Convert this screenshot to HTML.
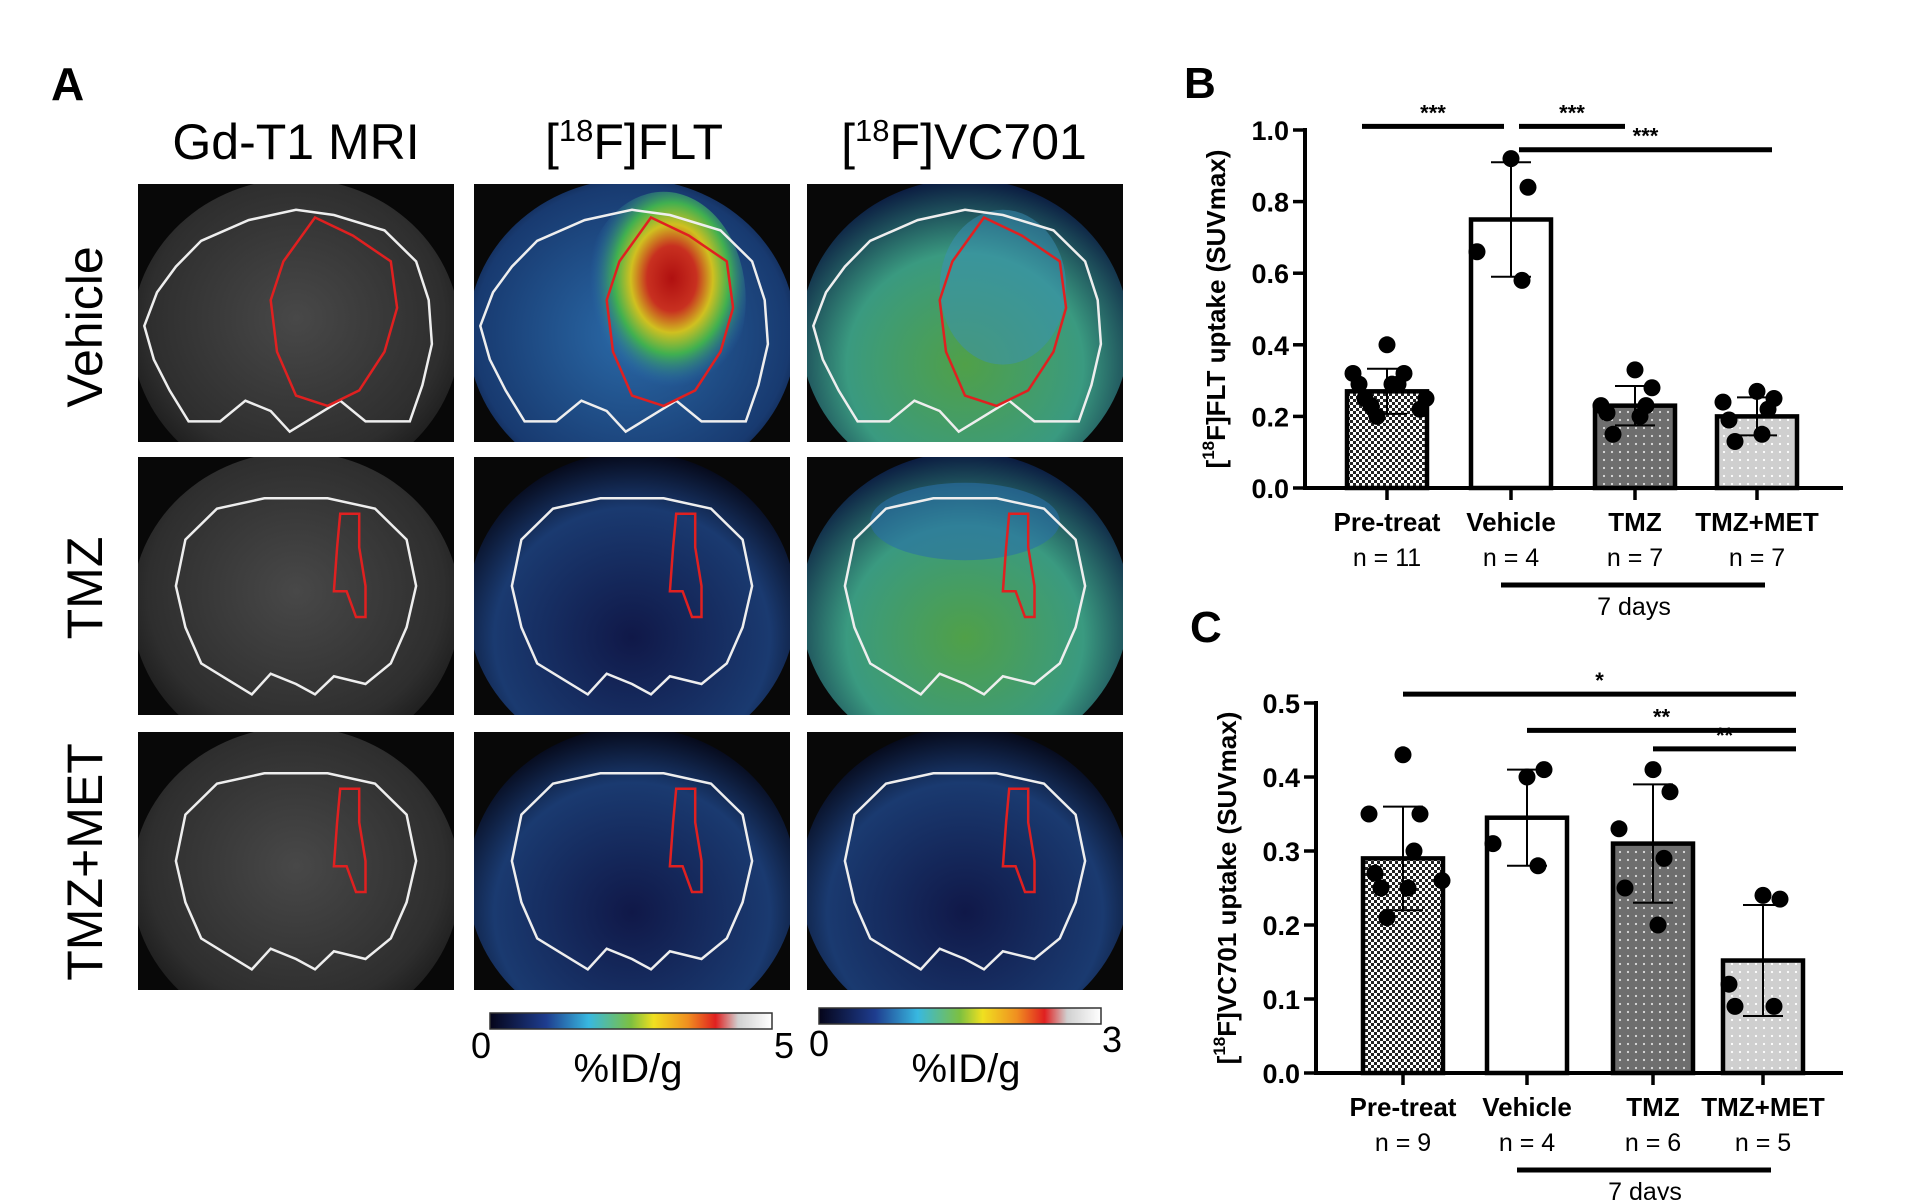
<!DOCTYPE html>
<html><head><meta charset="utf-8"><style>
html,body{margin:0;padding:0;background:#fff;}
svg{display:block;}
.nar{font-family:"Liberation Sans",sans-serif;}
.b{font-family:"Liberation Sans",sans-serif;font-weight:bold;}
</style></head><body>
<svg id="fig" width="1920" height="1200" viewBox="0 0 1920 1200" xmlns="http://www.w3.org/2000/svg">
<defs>
<pattern id="pCheck" width="6" height="6" patternUnits="userSpaceOnUse"><rect width="6" height="6" fill="#fff"/><rect width="3" height="3" fill="#222"/><rect x="3" y="3" width="3" height="3" fill="#222"/></pattern>
<pattern id="pDark" width="8" height="8" patternUnits="userSpaceOnUse"><rect width="8" height="8" fill="#6e6e6e"/><circle cx="4" cy="4" r="1.1" fill="#ddd"/></pattern>
<pattern id="pLight" width="8" height="8" patternUnits="userSpaceOnUse"><rect width="8" height="8" fill="#cfcfcf"/><circle cx="4" cy="4" r="1.1" fill="#fff"/></pattern>
<linearGradient id="jet" x1="0" x2="1"><stop offset="0" stop-color="#05051a"/><stop offset="0.2" stop-color="#1e3d8f"/><stop offset="0.35" stop-color="#38b8e0"/><stop offset="0.5" stop-color="#7dc040"/><stop offset="0.58" stop-color="#f0e020"/><stop offset="0.7" stop-color="#f09020"/><stop offset="0.8" stop-color="#e02020"/><stop offset="0.88" stop-color="#d0d0d0"/><stop offset="1" stop-color="#fff"/></linearGradient>
<radialGradient id="gMri" cx="0.5" cy="0.45" r="0.6"><stop offset="0" stop-color="#484848"/><stop offset="0.75" stop-color="#2e2e2e"/><stop offset="1" stop-color="#151515"/></radialGradient>
<radialGradient id="gHot" cx="0.55" cy="0.4" r="0.5"><stop offset="0" stop-color="#b01010"/><stop offset="0.3" stop-color="#c83020"/><stop offset="0.5" stop-color="#d0c020"/><stop offset="0.7" stop-color="#40b050"/><stop offset="1" stop-color="#2a6ab0" stop-opacity="0"/></radialGradient>
<radialGradient id="gBlue" cx="0.5" cy="0.5" r="0.6"><stop offset="0" stop-color="#2a6aa8"/><stop offset="0.8" stop-color="#183a70"/><stop offset="1" stop-color="#050a20"/></radialGradient>
<radialGradient id="gGreen" cx="0.5" cy="0.6" r="0.6"><stop offset="0" stop-color="#50a048"/><stop offset="0.6" stop-color="#3a9a80"/><stop offset="1" stop-color="#0a1a40"/></radialGradient>
<radialGradient id="gNavy" cx="0.5" cy="0.6" r="0.6"><stop offset="0" stop-color="#101848"/><stop offset="0.7" stop-color="#1a3a70"/><stop offset="1" stop-color="#050818"/></radialGradient>
</defs>
<text x="51" y="100" font-size="46" class="b">A</text>
<text x="296" y="159" font-size="50" text-anchor="middle" class="nar">Gd-T1 MRI</text>
<text x="634" y="159" font-size="50" text-anchor="middle" class="nar">[<tspan font-size="31" dy="-18">18</tspan><tspan dy="18">F]FLT</tspan></text>
<text x="964" y="159" font-size="50" text-anchor="middle" class="nar">[<tspan font-size="31" dy="-18">18</tspan><tspan dy="18">F]VC701</tspan></text>
<text transform="translate(102,327) rotate(-90)" font-size="50" text-anchor="middle" class="nar">Vehicle</text>
<text transform="translate(102,588) rotate(-90)" font-size="50" text-anchor="middle" class="nar">TMZ</text>
<text transform="translate(102,862) rotate(-90)" font-size="50" text-anchor="middle" class="nar">TMZ+MET</text>
<g id="tiles"></g>
<rect x="490" y="1013" width="282" height="16" fill="url(#jet)" stroke="#333" stroke-width="1.5"/>
<text x="481" y="1058" font-size="36" text-anchor="middle" class="nar">0</text>
<text x="784" y="1058" font-size="36" text-anchor="middle" class="nar">5</text>
<text x="628" y="1082" font-size="40" text-anchor="middle" class="nar">%ID/g</text>
<rect x="819" y="1008" width="282" height="16" fill="url(#jet)" stroke="#333" stroke-width="1.5"/>
<text x="819" y="1056" font-size="36" text-anchor="middle" class="nar">0</text>
<text x="1112" y="1052" font-size="36" text-anchor="middle" class="nar">3</text>
<text x="966" y="1082" font-size="40" text-anchor="middle" class="nar">%ID/g</text>
<text x="1184" y="98" font-size="44" class="b">B</text>
<text x="1190" y="642" font-size="44" class="b">C</text>
<g id="chartB"></g>
<g id="chartC"></g>
</svg>
<script>
// ---- Chart B data ----
const catsB = ["Pre-treat","Vehicle","TMZ","TMZ+MET"];
const nB = ["n = 11","n = 4","n = 7","n = 7"];
const meansB = [0.27,0.75,0.23,0.20];
const sdB = [0.063,0.16,0.055,0.053];
const ptsB = [[0.40,0.32,0.32,0.29,0.29,0.29,0.25,0.25,0.23,0.22,0.20],[0.92,0.84,0.66,0.58],[0.33,0.28,0.23,0.23,0.21,0.20,0.15],[0.27,0.25,0.24,0.22,0.19,0.15,0.13]];
const ticksB = [0,0.2,0.4,0.6,0.8,1.0];
const tickLabB = ["0.0","0.2","0.4","0.6","0.8","1.0"];
const sigB = [[0,1,"***",1.01],[1,2,"***",1.01],[1,3,"***",0.945]];
// ---- Chart C data ----
const catsC = ["Pre-treat","Vehicle","TMZ","TMZ+MET"];
const nC = ["n = 9","n = 4","n = 6","n = 5"];
const meansC = [0.29,0.345,0.31,0.152];
const sdC = [0.07,0.065,0.08,0.075];
const ptsC = [[0.43,0.35,0.35,0.30,0.27,0.25,0.25,0.26,0.21],[0.40,0.41,0.31,0.28],[0.41,0.38,0.33,0.29,0.25,0.20],[0.24,0.235,0.12,0.09,0.09]];
const ticksC = [0,0.1,0.2,0.3,0.4,0.5];
const tickLabC = ["0.0","0.1","0.2","0.3","0.4","0.5"];
const sigC = [[0,3,"*",0.512],[1,3,"**",0.463],[2,3,"**",0.438]];

const NS="http://www.w3.org/2000/svg";
function mk(parent,tag,attrs){const e=document.createElementNS(NS,tag);for(const k in attrs)e.setAttribute(k,attrs[k]);parent.appendChild(e);return e;}
const fills=["url(#pCheck)","#fff","url(#pDark)","url(#pLight)"];

function drawChart(g,cfg){
  const y=v=>cfg.y0-(v/cfg.ymax)*(cfg.y0-cfg.ytop);
  const x=i=>cfg.cx[i];
  let ax=mk(g,'line',{x1:cfg.x0,x2:cfg.x0,y1:y(cfg.ymax)-2,y2:cfg.y0,stroke:'#000','stroke-width':4});
  
  cfg.ticks.forEach((t,i)=>{
    let l=mk(g,'line',{x1:cfg.x0-12,x2:cfg.x0,y1:y(t),y2:y(t),stroke:'#000','stroke-width':3.5});
    
    let tx=mk(g,'text',{x:cfg.x0-16,y:y(t)+10,'font-size':27,'text-anchor':'end','class':'b'});
    tx.textContent=cfg.tickLab[i];
    
  });
  let yt=mk(g,'text',{transform:`translate(${cfg.x0-80},${(cfg.y0+y(cfg.ymax))/2}) rotate(-90)`,'font-size':26,'text-anchor':'middle','class':'b'});
  yt.innerHTML=cfg.title;
  
  cfg.means.forEach((m,i)=>{
    let r=mk(g,'rect',{x:x(i)-cfg.bw/2,y:y(m),width:cfg.bw,height:cfg.y0-y(m),fill:fills[i],stroke:'#000','stroke-width':4.5});
    
    let e=mk(g,'path',{d:`M${x(i)},${y(m+cfg.sd[i])}V${y(m-cfg.sd[i])}M${x(i)-20},${y(m+cfg.sd[i])}h40M${x(i)-20},${y(m-cfg.sd[i])}h40`,stroke:'#000','stroke-width':2,fill:'none'});
    
    const n=cfg.pts[i].length;
    cfg.pts[i].forEach((v,j)=>{
      const off=n>1?(j%2===0?-1:1)*((j*17)%40):0;
      let c=mk(g,'circle',{cx:x(i)+off,cy:y(v),r:8.5,fill:'#000'});
      
    });
    let tk=mk(g,'line',{x1:x(i),x2:x(i),y1:cfg.y0,y2:cfg.y0+12,stroke:'#000','stroke-width':3.5});
    
    let cl=mk(g,'text',{x:x(i),y:cfg.y0+43,'font-size':26,'text-anchor':'middle','class':'b'});
    cl.textContent=cfg.cats[i];
    
    let nl=mk(g,'text',{x:x(i),y:cfg.y0+78,'font-size':25,'text-anchor':'middle','class':'nar'});
    nl.textContent=cfg.n[i];
    
  });
  let xa=mk(g,'line',{x1:cfg.x0-2,x2:cfg.xend,y1:cfg.y0,y2:cfg.y0,stroke:'#000','stroke-width':4});
  
  cfg.sig.forEach(s=>{
    const ys=y(s[3]);
    const x1=x(s[0])+cfg.sOff(s[0],true), x2=x(s[1])+cfg.sOff(s[1],false);
    let l=mk(g,'line',{x1:x1,x2:x2,y1:ys,y2:ys,stroke:'#000','stroke-width':5});
    
    let t=mk(g,'text',{x:(x1+x2)/2,y:ys-6,'font-size':22,'text-anchor':'middle','class':'b'});
    t.textContent=s[2];
    
  });
  let dl=mk(g,'line',{x1:x(1)-10,x2:x(3)+8,y1:cfg.y0+97,y2:cfg.y0+97,stroke:'#000','stroke-width':5});
  
  let dt=mk(g,'text',{x:(x(1)+x(3))/2,y:cfg.y0+127,'font-size':25,'text-anchor':'middle','class':'nar'});
  dt.textContent='7 days';
  
}
drawChart(document.getElementById('chartB'),{x0:1305,y0:488,ytop:130,ymax:1.0,cx:[1387,1511,1635,1757],bw:80,xend:1843,
 sOff:(i,start)=>start?(i===0?-25:(i===1?8:0)):(i===1?-7:(i===2?-10:15)),
 cats:catsB,n:nB,means:meansB,sd:sdB,pts:ptsB,ticks:ticksB,tickLab:tickLabB,sig:sigB,
 title:'[<tspan font-size="17" dy="-11">18</tspan><tspan dy="11">F]FLT uptake (SUVmax)</tspan>'});
drawChart(document.getElementById('chartC'),{x0:1316,y0:1073,ytop:703,ymax:0.5,cx:[1403,1527,1653,1763],bw:80,xend:1843,
 sOff:(i,start)=>start?0:33,
 cats:catsC,n:nC,means:meansC,sd:sdC,pts:ptsC,ticks:ticksC,tickLab:tickLabC,sig:sigC,
 title:'[<tspan font-size="17" dy="-11">18</tspan><tspan dy="11">F]VC701 uptake (SUVmax)</tspan>'});

// ---- brain tiles ----
const tg=document.getElementById('tiles');
const colX=[138,474,807], rowY=[184,457,732], TW=316, TH=258;
const outl1=[[.02,.55],[.06,.42],[.12,.32],[.2,.22],[.35,.14],[.5,.1],[.62,.12],[.78,.18],[.88,.3],[.92,.45],[.93,.62],[.9,.78],[.86,.92],[.72,.92],[.64,.84],[.56,.9],[.48,.96],[.42,.88],[.34,.84],[.26,.92],[.16,.92],[.1,.8],[.05,.68]];
const outl2=[[.12,.5],[.15,.32],[.25,.2],[.4,.16],[.6,.16],[.75,.2],[.85,.32],[.88,.5],[.85,.66],[.8,.8],[.72,.88],[.62,.85],[.56,.92],[.5,.88],[.42,.84],[.36,.92],[.28,.86],[.2,.8],[.15,.66]];
const red1=[[.56,.13],[.68,.2],[.8,.3],[.82,.48],[.78,.65],[.7,.8],[.6,.86],[.5,.82],[.44,.65],[.42,.45],[.46,.3]];
const red2=[[.64,.22],[.7,.22],[.7,.35],[.72,.5],[.72,.62],[.69,.62],[.66,.52],[.62,.52],[.63,.35]];
const fillsT=[["url(#gMri)","url(#gBlue)","url(#gGreen)"],["url(#gMri)","url(#gNavy)","url(#gGreen)"],["url(#gMri)","url(#gNavy)","url(#gNavy)"]];
const poly=(pts,x0,y0)=>pts.map(p=>(x0+p[0]*TW).toFixed(1)+','+(y0+p[1]*TH).toFixed(1)).join(' ');
const defs=document.querySelector('defs');
rowY.forEach((ry,r)=>colX.forEach((cx,c)=>{
  const cp=mk(defs,'clipPath',{id:'clip'+r+c});
  mk(cp,'rect',{x:cx,y:ry,width:TW,height:TH});
  const tile=mk(tg,'g',{'clip-path':'url(#clip'+r+c+')'});
  
  mk(tile,'rect',{x:cx,y:ry,width:TW,height:TH,fill:'#080808'});
  mk(tile,'ellipse',{cx:cx+TW/2,cy:ry+TH*0.58,rx:TW*0.52,ry:TH*0.6,fill:fillsT[r][c]});
  if(r===0&&c===1) mk(tile,'ellipse',{cx:cx+TW*0.6,cy:ry+TH*0.45,rx:TW*0.26,ry:TH*0.42,fill:'url(#gHot)'});
  if(r===0&&c===2) mk(tile,'ellipse',{cx:cx+TW*0.62,cy:ry+TH*0.4,rx:TW*0.2,ry:TH*0.3,fill:'#3a90b8',opacity:0.5});
  if(r===1&&c===2) mk(tile,'ellipse',{cx:cx+TW*0.5,cy:ry+TH*0.25,rx:TW*0.3,ry:TH*0.15,fill:'#2a70a8',opacity:0.6});
  let o=mk(tile,'polygon',{points:poly(r===0?outl1:outl2,cx,ry),fill:'none',stroke:'#eee','stroke-width':2.5});
  
  let rd=mk(tile,'polygon',{points:poly(r===0?red1:red2,cx,ry),fill:'none',stroke:'#e02020','stroke-width':2.5});
  
}));
</script>
</body></html>
